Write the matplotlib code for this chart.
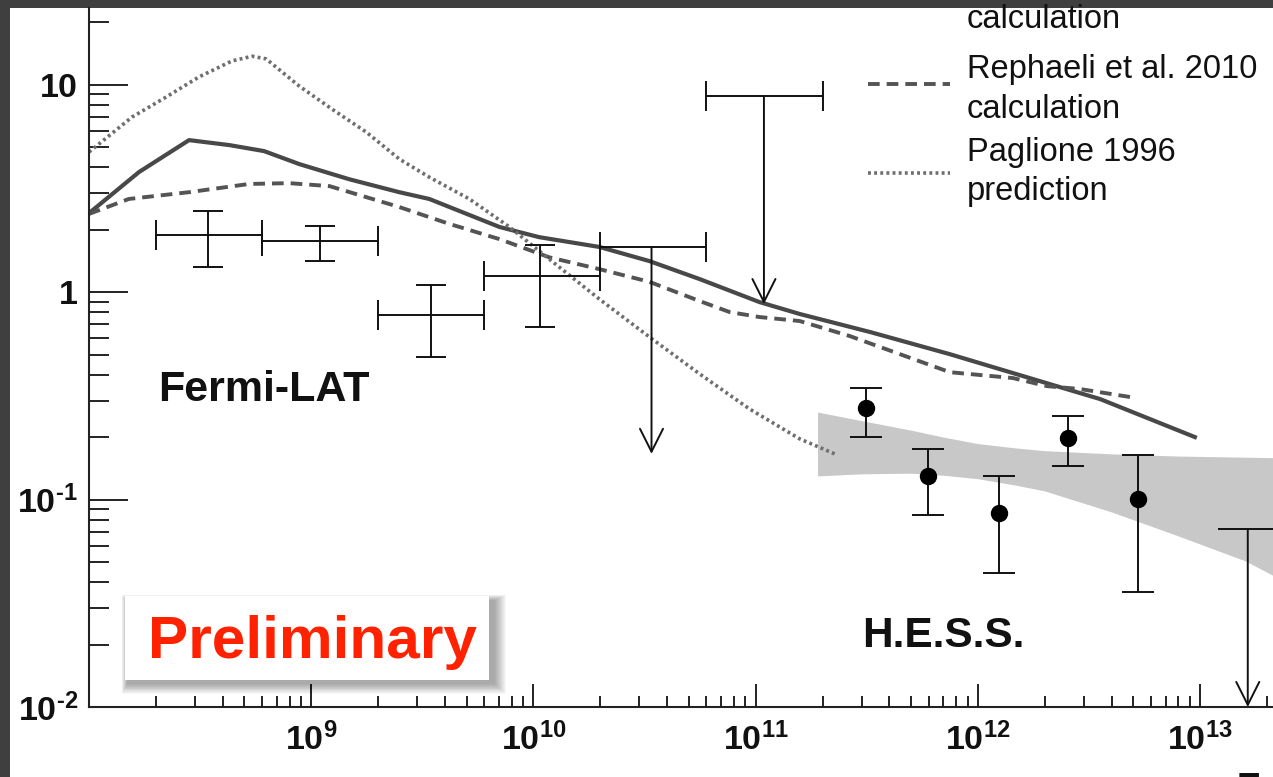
import matplotlib
matplotlib.use('Agg')
import matplotlib.pyplot as plt
from matplotlib.patches import Rectangle
from matplotlib.lines import Line2D
from matplotlib.ticker import FixedLocator, FixedFormatter, NullFormatter

W, H = 1273, 777
plt.rcParams['font.family'] = ['Liberation Sans', 'DejaVu Sans']
plt.rcParams['mathtext.fontset'] = 'custom'
plt.rcParams['mathtext.rm'] = 'Liberation Sans:bold'
plt.rcParams['mathtext.bf'] = 'Liberation Sans:bold'
plt.rcParams['mathtext.it'] = 'Liberation Sans:bold'
plt.rcParams['mathtext.sf'] = 'Liberation Sans:bold'

# ---------------- data ----------------
# Fermi-LAT flux points (energy bin, flux with errors)
fermi_e = [3.44e8, 1.09e9, 3.47e9, 1.07e10]
fermi_e_lo = [2e8, 6e8, 2e9, 6e9]
fermi_e_hi = [6e8, 2e9, 6e9, 2e10]
fermi_f = [1.88, 1.76, 0.775, 1.19]
fermi_f_lo = [1.32, 1.41, 0.486, 0.678]
fermi_f_hi = [2.46, 2.08, 1.08, 1.69]

# Fermi-LAT upper limits
fermi_ul_e = [3.4e10, 1.09e11]
fermi_ul_e_lo = [2e10, 6e10]
fermi_ul_e_hi = [6e10, 2e11]
fermi_ul_f = [1.65, 8.8]
fermi_ul_tip = [0.166, 0.875]

# H.E.S.S. flux points
hess_e = [3.13e11, 5.96e11, 1.24e12, 2.54e12, 5.26e12]
hess_f = [0.276, 0.130, 0.0861, 0.198, 0.1005]
hess_f_lo = [0.200, 0.0842, 0.0442, 0.145, 0.0358]
hess_f_hi = [0.344, 0.175, 0.130, 0.252, 0.164]

# H.E.S.S. upper limit
hess_ul_e = 1.64e13
hess_ul_e_lo = 1.2e13
hess_ul_e_hi = 2.24e13
hess_ul_f = 0.072
hess_ul_tip = 0.01

# H.E.S.S. butterfly band
band_e = [1.9e11, 3e11, 5e11, 7e11, 1e12, 1.5e12, 2e12, 4e12, 8e12, 1.6e13, 2.2e13]
band_hi = [0.264, 0.240, 0.216, 0.200, 0.186, 0.177, 0.172, 0.166, 0.162, 0.160, 0.159]
band_lo = [0.130, 0.133, 0.134, 0.131, 0.126, 0.117, 0.110, 0.0871, 0.0667, 0.0506, 0.0423]

# model curves
solid_e = [1.0e8, 1.68e8, 2.82e8, 4.28e8, 6.14e8, 8.83e8, 1.48e9, 2.49e9, 3.40e9,
           7.03e9, 1.06e10, 1.98e10, 3.33e10, 5.60e10, 1.04e11, 1.58e11, 3.27e11,
           7.48e11, 2.11e12, 3.55e12, 9.48e12]
solid_f = [2.40, 3.79, 5.40, 5.11, 4.78, 4.14, 3.50, 3.03, 2.81,
           2.06, 1.84, 1.65, 1.41, 1.155, 0.895, 0.784, 0.642,
           0.502, 0.360, 0.305, 0.200]

dashed_e = [1.0e8, 1.51e8, 2.82e8, 5.26e8, 7.96e8, 1.21e9, 2.49e9, 4.19e9, 7.03e9,
            1.18e10, 1.98e10, 3.33e10, 5.60e10, 7.64e10, 1.04e11, 1.58e11, 2.65e11,
            4.46e11, 7.48e11, 1.44e12, 2.05e12, 2.88e12, 4.84e12]
dashed_f = [2.38, 2.81, 3.03, 3.32, 3.35, 3.24, 2.57, 2.13, 1.80,
            1.47, 1.29, 1.12, 0.905, 0.801, 0.758, 0.725, 0.614,
            0.502, 0.411, 0.385, 0.352, 0.341, 0.312]

dotted_e = [1.0e8, 1.56e8, 2.22e8, 3.13e8, 4.40e8, 5.42e8, 6.27e8, 8.83e8, 1.24e9,
            1.77e9, 2.49e9, 3.40e9, 5.15e9, 7.80e9, 1.18e10, 1.98e10, 3.33e10,
            5.60e10, 9.40e10, 1.58e11, 2.27e11]
dotted_f = [4.73, 6.97, 8.70, 10.9, 13.0, 13.7, 13.3, 9.84, 7.62,
            5.90, 4.38, 3.58, 2.81, 2.06, 1.44, 0.925, 0.607,
            0.403, 0.273, 0.196, 0.166]

x_major = [1e9, 1e10, 1e11, 1e12, 1e13]
x_major_labels = [r'$\mathbf{10^{9}}$', r'$\mathbf{10^{10}}$', r'$\mathbf{10^{11}}$',
                  r'$\mathbf{10^{12}}$', r'$\mathbf{10^{13}}$']
y_major = [0.01, 0.1, 1, 10]
y_major_labels = ['$\\mathbf{10^{\u2010 2}}$', '$\\mathbf{10^{\u2010 1}}$',
                  r'$\mathbf{1}$', r'$\mathbf{10}$']

legend_labels = [['calculation'],
                 ['Rephaeli et al. 2010', 'calculation'],
                 ['Paglione 1996', 'prediction']]


def fx(px):
    return px / W


def fy(py):
    return 1 - py / H


# ---------------- figure ----------------
fig = plt.figure(figsize=(W / 100, H / 100), dpi=100, facecolor='#3f3f3f')
fig.add_artist(Rectangle((fx(10), 0), 1, fy(8), transform=fig.transFigure,
                         facecolor='white', edgecolor='none', zorder=-5))

ax = fig.add_axes([fx(89), fy(707), 1 - fx(89), fy(8) - fy(707)])
ax.set_facecolor('none')
ax.set_xscale('log')
ax.set_yscale('log')
ax.set_xlim(1e8, 2.13e13)
ax.set_ylim(0.01, 23.4)

# band
ax.fill_between(band_e, band_lo, band_hi, color='#c8c8c8', lw=0, zorder=1)

# curves
solid_col, dash_col, dot_col = '#484848', '#545454', '#6e6e6e'
ax.plot(solid_e, solid_f, color=solid_col, lw=3.0, zorder=2, solid_joinstyle='round')
ax.plot(dashed_e, dashed_f, color=dash_col, lw=2.8, ls=(0, (3.0, 1.8)), zorder=2)
ax.plot(dotted_e, dotted_f, color=dot_col, lw=2.6, ls=(0, (0.8, 0.9)), zorder=2)

ek = dict(ecolor='#111111', elinewidth=1.4, capthick=1.4)

# Fermi points
ax.errorbar(fermi_e, fermi_f,
            xerr=[[e - l for e, l in zip(fermi_e, fermi_e_lo)],
                  [h - e for e, h in zip(fermi_e, fermi_e_hi)]],
            yerr=[[f - l for f, l in zip(fermi_f, fermi_f_lo)],
                  [h - f for f, h in zip(fermi_f, fermi_f_hi)]],
            fmt='none', capsize=10.8, zorder=3, **ek)

# Fermi upper limits
ax.errorbar(fermi_ul_e, fermi_ul_f,
            xerr=[[e - l for e, l in zip(fermi_ul_e, fermi_ul_e_lo)],
                  [h - e for e, h in zip(fermi_ul_e, fermi_ul_e_hi)]],
            fmt='none', capsize=10.8, zorder=3, **ek)
arrow_style = '->,head_length=16.5,head_width=8.3'
for e, f, t in zip(fermi_ul_e, fermi_ul_f, fermi_ul_tip):
    ax.annotate('', xy=(e, t), xytext=(e, f),
                arrowprops=dict(arrowstyle=arrow_style, mutation_scale=1, lw=1.4,
                                color='#111111', shrinkA=0, shrinkB=0), zorder=3)

# HESS points
ax.errorbar(hess_e, hess_f,
            yerr=[[f - l for f, l in zip(hess_f, hess_f_lo)],
                  [h - f for f, h in zip(hess_f, hess_f_hi)]],
            fmt='o', ms=11.5, mfc='black', mec='black', capsize=11.5, zorder=4, **ek)

# HESS upper limit
ax.hlines(hess_ul_f, hess_ul_e_lo, hess_ul_e_hi, color='#111111', lw=1.4, zorder=3)
ax.annotate('', xy=(hess_ul_e, hess_ul_tip), xytext=(hess_ul_e, hess_ul_f),
            arrowprops=dict(arrowstyle=arrow_style, mutation_scale=1, lw=1.4,
                            color='#111111', shrinkA=0, shrinkB=0), zorder=3,
            annotation_clip=False)

# ticks
ax.xaxis.set_major_locator(FixedLocator(x_major))
ax.xaxis.set_major_formatter(FixedFormatter(x_major_labels))
x_minor = [k * 10 ** n for n in range(8, 14) for k in range(2, 10)]
ax.xaxis.set_minor_locator(FixedLocator([v for v in x_minor if v < 2.13e13]))
ax.xaxis.set_minor_formatter(NullFormatter())
ax.yaxis.set_major_locator(FixedLocator(y_major))
ax.yaxis.set_major_formatter(FixedFormatter(y_major_labels))
y_minor = [k * 10.0 ** n for n in range(-2, 2) for k in range(2, 10)]
ax.yaxis.set_minor_locator(FixedLocator([v for v in y_minor if v < 23.4]))
ax.yaxis.set_minor_formatter(NullFormatter())

ax.tick_params(axis='x', which='major', direction='in', length=16.5, width=1.4,
               color='#222222', labelsize=24.5, pad=11, labelcolor='#111111')
ax.tick_params(axis='x', which='minor', direction='in', length=7.9, width=1.4,
               color='#222222')
ax.tick_params(axis='y', which='major', direction='in', length=28, width=1.4,
               color='#222222', labelsize=24.5, pad=8, labelcolor='#111111')
ax.tick_params(axis='y', which='minor', direction='in', length=14.4, width=1.4,
               color='#222222')
for s in ['top', 'right']:
    ax.spines[s].set_visible(False)
for s in ['left', 'bottom']:
    ax.spines[s].set_linewidth(1.5)
    ax.spines[s].set_color('#222222')

# legend (manual)
fig.add_artist(Line2D([fx(868), fx(950)], [fy(84), fy(84)], transform=fig.transFigure,
                      color=dash_col, lw=2.8, ls=(0, (3.0, 1.8))))
fig.add_artist(Line2D([fx(868), fx(950)], [fy(173), fy(173)], transform=fig.transFigure,
                      color=dot_col, lw=2.6, ls=(0, (0.8, 0.9))))
legend_baselines = [[28], [78, 118], [161, 200]]
for lines, bases in zip(legend_labels, legend_baselines):
    for txt, b in zip(lines, bases):
        fig.text(fx(967), fy(b), txt, fontsize=23.5, color='#111111',
                 va='baseline', ha='left')

# annotations
fig.text(fx(158), fy(401), 'Fermi-LAT', fontsize=31, fontweight='bold', color='#111111',
         va='baseline', ha='left')
fig.text(fx(862), fy(647), 'H.E.S.S.', fontsize=30.5, fontweight='bold', color='#111111',
         va='baseline', ha='left')
fig.text(fx(1237), fy(799), 'E', fontsize=26, fontweight='bold', color='#111111',
         va='baseline', ha='left')

# Preliminary box with soft shadow
bx0, by0, bx1, by1 = 125, 596, 489, 680
for i in range(12):
    fig.add_artist(Rectangle((fx(bx0 + 2 - i * 0.5), fy(by1 + 4 + i * 0.9)),
                             (bx1 - bx0 + 4 + i * 1.5) / W, (by1 - by0 + i * 1.4) / H,
                             transform=fig.transFigure, facecolor='black',
                             edgecolor='none', alpha=0.03, zorder=5))
fig.add_artist(Rectangle((fx(bx0), fy(by1)), (bx1 - bx0) / W, (by1 - by0) / H,
                         transform=fig.transFigure, facecolor='white',
                         edgecolor='none', zorder=6))
fig.text(fx(312), fy(658), 'Preliminary', fontsize=43.5, fontweight='bold',
         color='#ff2200', va='baseline', ha='center', zorder=7)

fig.savefig('out.png', dpi=100, facecolor=fig.get_facecolor())
